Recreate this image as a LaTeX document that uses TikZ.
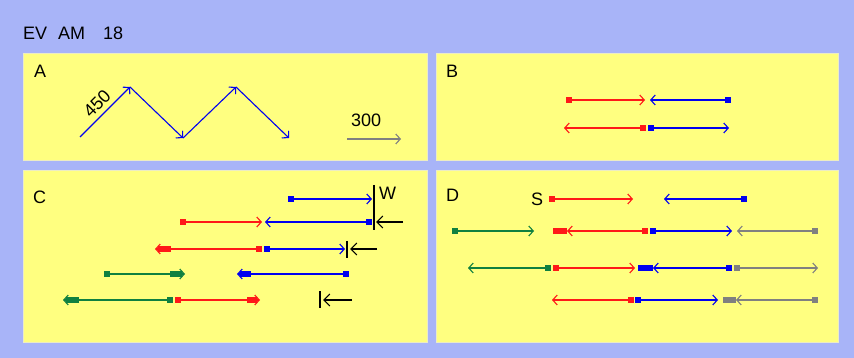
\documentclass[tikz,border=0pt]{standalone}
\usepackage{fontspec}
\setmainfont{Liberation Sans}
\usetikzlibrary{arrows.meta,calc}
\definecolor{bgblue}{RGB}{168,180,248}
\definecolor{panely}{RGB}{255,255,128}
\definecolor{panele}{RGB}{236,236,196}
\definecolor{cred}{RGB}{255,24,24}
\definecolor{cblue}{RGB}{0,0,240}
\definecolor{cgreen}{RGB}{16,128,64}
\definecolor{cgrey}{RGB}{128,128,128}
\tikzset{
  panel/.style={fill=panely, draw=panele, line width=0.8pt},
  lbl/.style={font=\fontsize{18}{18}\selectfont, inner sep=0pt, anchor=base west, text=black},
  sq/.style={rectangle, fill=#1, minimum size=5.5pt, inner sep=0pt},
  ln/.style={draw=#1, line width=1.3pt, line cap=butt, -{Straight Barb[length=4.5pt,width=10pt,line width=1.1pt]}},
  tb/.style={draw=#1, line width=5.5pt, line cap=butt},
  blk/.style={draw=black, line width=1.3pt, -{Straight Barb[length=6pt,width=12pt,line width=1.1pt]}},
  bar/.style={draw=black, line width=1.4pt},
}
\begin{document}
\begin{tikzpicture}[x=1pt,y=-1pt]
\useasboundingbox (0,0) rectangle (854,358);
\fill[bgblue] (0,0) rectangle (854,358);
% panels
\draw[panel] (23,53) rectangle (427,160);
\draw[panel] (436,53) rectangle (838,160);
\draw[panel] (23,170) rectangle (427,342);
\draw[panel] (436,170) rectangle (838,342);
% title
\node[lbl] (t1) at (23,40) {EV};
\node[lbl] (t2) at (58,40) {AM};
\node[lbl] (t3) at (103,40) {18};
\node[lbl] (la) at (34,78) {A};
\node[lbl] (lb) at (446,78) {B};
\node[lbl] (lc) at (33,204) {C};
\node[lbl] (ld) at (446,202) {D};
\node[lbl] (ls) at (531,206) {S};
\node[lbl] (lw) at (379,200) {W};
\node[lbl] (l300) at (351,127) {300};
\node[font=\fontsize{18}{18}\selectfont, inner sep=0pt, rotate=45] (l450) at (97,104) {450};
% panel A zigzag
\coordinate (z0) at (80,137);
\coordinate (z1) at (130,87);
\coordinate (z2) at (183,138);
\coordinate (z3) at (236,87);
\coordinate (z4) at (289,138);
\draw[ln=cblue, line width=1.1pt] (z0) -- (z1);
\draw[ln=cblue, line width=1.1pt] (z1) -- (z2);
\draw[ln=cblue, line width=1.1pt] (z2) -- (z3);
\draw[ln=cblue, line width=1.1pt] (z3) -- (z4);
\coordinate (g0) at (347,139);
\coordinate (g1) at (401,139);
\draw[ln=cgrey, line width=1.1pt] (g0) -- (g1);
% panel B
\node[sq=cred] (b1r) at (569,100) {};
\coordinate (b1rt) at (645,100);
\node[sq=cblue] (b1b) at (728,100) {};
\coordinate (b1bt) at (650,100);
\draw[ln=cred] (b1r.center) -- (b1rt);
\draw[ln=cblue] (b1b.center) -- (b1bt);
\node[sq=cred] (b2r) at (643,128) {};
\coordinate (b2rt) at (564,128);
\node[sq=cblue] (b2b) at (651,128) {};
\coordinate (b2bt) at (729,128);
\draw[ln=cred] (b2r.center) -- (b2rt);
\draw[ln=cblue] (b2b.center) -- (b2bt);
% panel C
% row 1
\node[sq=cblue] (c1b) at (291,199) {};
\coordinate (c1bt) at (372,199);
\draw[ln=cblue] (c1b.center) -- (c1bt);
\coordinate (w1) at (374,185);
\coordinate (w2) at (374,230);
\draw[bar] (w1) -- (w2);
% row 2
\node[sq=cred] (c2r) at (183,222) {};
\coordinate (c2rt) at (262,222);
\draw[ln=cred] (c2r.center) -- (c2rt);
\node[sq=cblue] (c2b) at (369,222) {};
\coordinate (c2bt) at (265,222);
\draw[ln=cblue] (c2b.center) -- (c2bt);
\coordinate (k2a) at (403,222);
\coordinate (k2b) at (376,222);
\draw[blk] (k2a) -- (k2b);
% row 3
\node[sq=cred] (c3r) at (259,249) {};
\coordinate (c3rt) at (155,249);
\draw[tb=cred] ([xshift=3pt]c3rt) -- ([xshift=16pt]c3rt);
\draw[ln=cred] (c3r.center) -- (c3rt);
\node[sq=cblue] (c3b) at (267,249) {};
\coordinate (c3bt) at (345,249);
\draw[ln=cblue] (c3b.center) -- (c3bt);
\coordinate (v3a) at (347,241);
\coordinate (v3b) at (347,258);
\draw[bar] (v3a) -- (v3b);
\coordinate (k3a) at (377,249);
\coordinate (k3b) at (350,249);
\draw[blk] (k3a) -- (k3b);
% row 4
\node[sq=cgreen] (c4g) at (107,274) {};
\coordinate (c4gt) at (185,274);
\draw[tb=cgreen] ([xshift=-3pt]c4gt) -- ([xshift=-15pt]c4gt);
\draw[ln=cgreen] (c4g.center) -- (c4gt);
\node[sq=cblue] (c4b) at (346,274) {};
\coordinate (c4bt) at (237,274);
\draw[tb=cblue] ([xshift=3pt]c4bt) -- ([xshift=14pt]c4bt);
\draw[ln=cblue] (c4b.center) -- (c4bt);
% row 5
\node[sq=cgreen] (c5g) at (170,300) {};
\coordinate (c5gt) at (63,300);
\draw[tb=cgreen] ([xshift=3pt]c5gt) -- ([xshift=16pt]c5gt);
\draw[ln=cgreen] (c5g.center) -- (c5gt);
\node[sq=cred] (c5r) at (178,300) {};
\coordinate (c5rt) at (260,300);
\draw[tb=cred] ([xshift=-3pt]c5rt) -- ([xshift=-13pt]c5rt);
\draw[ln=cred] (c5r.center) -- (c5rt);
\coordinate (v5a) at (320,291);
\coordinate (v5b) at (320,308);
\draw[bar] (v5a) -- (v5b);
\coordinate (k5a) at (352,300);
\coordinate (k5b) at (323,300);
\draw[blk] (k5a) -- (k5b);
% panel D
% row 1
\node[sq=cred] (d1r) at (552,199) {};
\coordinate (d1rt) at (633,199);
\draw[ln=cred] (d1r.center) -- (d1rt);
\node[sq=cblue] (d1b) at (744,199) {};
\coordinate (d1bt) at (664,199);
\draw[ln=cblue] (d1b.center) -- (d1bt);
% row 2
\node[sq=cgreen] (d2g) at (455,231) {};
\coordinate (d2gt) at (534,231);
\draw[ln=cgreen] (d2g.center) -- (d2gt);
\node[sq=cred] (d2r) at (645,231) {};
\coordinate (d2rt) at (567,231);
\draw[tb=cred] (d2rt) -- ([xshift=-14pt]d2rt);
\draw[ln=cred] (d2r.center) -- (d2rt);
\node[sq=cblue] (d2b) at (653,231) {};
\coordinate (d2bt) at (732,231);
\draw[ln=cblue] (d2b.center) -- (d2bt);
\node[sq=cgrey] (d2y) at (815,231) {};
\coordinate (d2yt) at (737,231);
\draw[ln=cgrey] (d2y.center) -- (d2yt);
% row 3
\node[sq=cgreen] (d3g) at (548,268) {};
\coordinate (d3gt) at (468,268);
\draw[ln=cgreen] (d3g.center) -- (d3gt);
\node[sq=cred] (d3r) at (556,268) {};
\coordinate (d3rt) at (635,268);
\draw[ln=cred] (d3r.center) -- (d3rt);
\node[sq=cblue] (d3b) at (729,268) {};
\coordinate (d3bt) at (653,268);
\draw[tb=cblue] (d3bt) -- ([xshift=-15pt]d3bt);
\draw[ln=cblue] (d3b.center) -- (d3bt);
\node[sq=cgrey] (d3y) at (737,268) {};
\coordinate (d3yt) at (818,268);
\draw[ln=cgrey] (d3y.center) -- (d3yt);
% row 4
\node[sq=cred] (d4r) at (631,300) {};
\coordinate (d4rt) at (552,300);
\draw[ln=cred] (d4r.center) -- (d4rt);
\node[sq=cblue] (d4b) at (638,300) {};
\coordinate (d4bt) at (718,300);
\draw[ln=cblue] (d4b.center) -- (d4bt);
\node[sq=cgrey] (d4y) at (815,300) {};
\coordinate (d4yt) at (736,300);
\draw[tb=cgrey] (d4yt) -- ([xshift=-13pt]d4yt);
\draw[ln=cgrey] (d4y.center) -- (d4yt);
\end{tikzpicture}
\end{document}
